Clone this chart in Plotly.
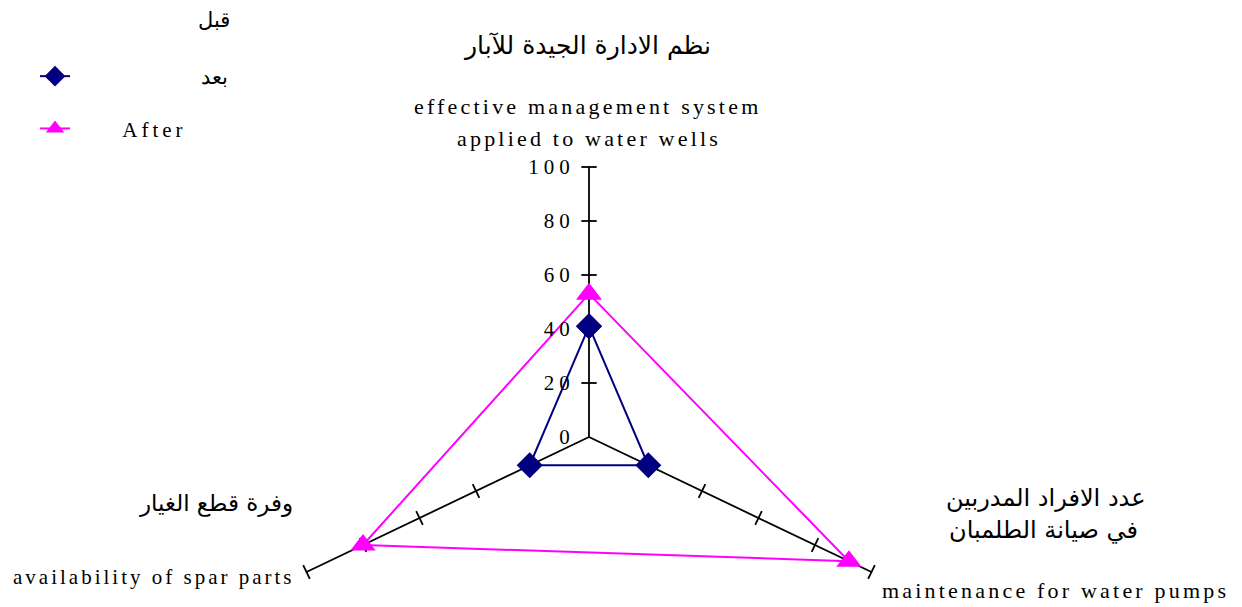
import math
import plotly.graph_objects as go

# ---- data ----
categories = ["effective management system applied to water wells",
              "maintenance for water pumps",
              "availability of spar parts"]
category_angles = [90, -30, 210]          # radar spoke directions (deg)
before_values = [41, 21, 21]
after_values = [53, 92, 80]
radial_ticks = [0, 20, 40, 60, 80, 100]
cross_ticks = [20, 40, 60, 80, 100]
axis_max = 100
series_names = ["بعد", "After"]
legend_header = "قبل"

arabic_top = "نظم الادارة الجيدة للآبار"
english_top = ["effective management system", "applied to water wells"]
arabic_right = ["عدد الافراد المدربين", "في صيانة الطلمبان"]
english_right = "maintenance for water pumps"
arabic_left = "وفرة قطع الغيار"
english_left = "availability of spar parts"

SERIF = "Liberation Serif, Times New Roman, serif"
ARABIC = "DejaVu Sans, Arial, sans-serif"

# ---- geometry of the (horizontally stretched) radar ----
OFF = 8                      # page body margin
FW, FH = 1242 - OFF, 607 - OFF
CX, CY = 589 - OFF, 437 - OFF   # radar centre in figure pixels
SX, SY = 3.262, 2.70            # pixels per unit, horizontal / vertical


def proj(r, ang):
    a = math.radians(ang)
    return r * math.cos(a), r * math.sin(a)


def wide(t, ls=3.2):
    return '<span style="letter-spacing:%.1fpx">%s</span>' % (ls, t)


fig = go.Figure()

# spokes
sx_, sy_ = [], []
for ang in category_angles:
    x1, y1 = proj(axis_max, ang)
    sx_ += [0, x1, None]
    sy_ += [0, y1, None]
fig.add_trace(go.Scatter(x=sx_, y=sy_, mode="lines",
                         line=dict(color="black", width=1.8),
                         showlegend=False, hoverinfo="skip"))

# tick crosses on the spokes (perpendicular in screen space)
tx, ty, tang = [], [], []
for ang in category_angles:
    a = math.radians(ang)
    dx, dy = math.cos(a) * SX, math.sin(a) * SY
    screen_dir = math.degrees(math.atan2(dy, dx))
    rot = -(screen_dir + 90)
    for t in cross_ticks:
        px, py = proj(t, ang)
        tx.append(px)
        ty.append(py)
        tang.append(rot)
fig.add_trace(go.Scatter(x=tx, y=ty, mode="markers",
                         marker=dict(symbol="line-ew", size=11, angle=tang,
                                     line=dict(color="black", width=1.8)),
                         showlegend=False, hoverinfo="skip", cliponaxis=False))


def polygon(values):
    xs, ys = [], []
    for v, ang in zip(values + values[:1], category_angles + category_angles[:1]):
        px, py = proj(v, ang)
        xs.append(px)
        ys.append(py)
    return xs, ys


bx, by = polygon(before_values)
fig.add_trace(go.Scatter(
    x=bx, y=by, mode="lines+markers", name="\u00a0" * 24 + series_names[0],
    legendgroup="a", line=dict(color="#000080", width=2),
    marker=dict(symbol="diamond", size=20, color="#000080"),
    cliponaxis=False, text=categories + categories[:1], hoverinfo="text+name"))

ax_, ay_ = polygon(after_values)
fig.add_trace(go.Scatter(
    x=ax_, y=ay_, mode="lines+markers", name="\u00a0" * 9 + wide(series_names[1], 4),
    legendgroup="b", line=dict(color="#FF00FF", width=2),
    marker=dict(symbol="triangle-up", size=22, color="#FF00FF"),
    cliponaxis=False, text=categories + categories[:1], hoverinfo="text+name"))

fig.update_layout(
    width=FW, height=FH,
    margin=dict(l=0, r=0, t=0, b=0),
    paper_bgcolor="white", plot_bgcolor="white",
    xaxis=dict(range=[-CX / SX, (FW - CX) / SX], visible=False, fixedrange=True),
    yaxis=dict(range=[-(FH - CY) / SY, CY / SY], anchor="free", position=CX / FW,
               side="left", showgrid=False, zeroline=False, showline=False,
               tickvals=radial_ticks,
               ticktext=[wide(str(v), 5) for v in radial_ticks],
               ticks="outside", ticklen=10, tickcolor="rgba(0,0,0,0)",
               tickfont=dict(family=SERIF, size=21, color="black"),
               fixedrange=True),
    legend=dict(x=(35 - OFF) / FW, y=1 - (56 - OFF) / FH, xanchor="left", yanchor="top",
                font=dict(family=SERIF, size=21, color="black"),
                tracegroupgap=22, bgcolor="rgba(0,0,0,0)"),
    showlegend=True,
)


def ann(text, x, y, fam, size):
    fig.add_annotation(text=text, x=(x - OFF) / FW, y=1 - (y - OFF) / FH,
                       xref="paper", yref="paper",
                       showarrow=False, xanchor="center", yanchor="middle", align="center",
                       font=dict(family=fam, size=size, color="black"))


ann(legend_header, 214, 20, ARABIC, 21)
ann(arabic_top, 587, 46, ARABIC, 25)
ann(wide(english_top[0]), 587, 106, SERIF, 22)
ann(wide(english_top[1]), 589, 138, SERIF, 22)
ann(arabic_right[0], 1046, 498, ARABIC, 24)
ann(arabic_right[1], 1043, 530, ARABIC, 24)
ann(wide(english_right), 1055, 590, SERIF, 22)
ann(arabic_left, 216, 503, ARABIC, 23)
ann(wide(english_left, 3.0), 154, 577, SERIF, 21)

fig.write_html("out.html")
